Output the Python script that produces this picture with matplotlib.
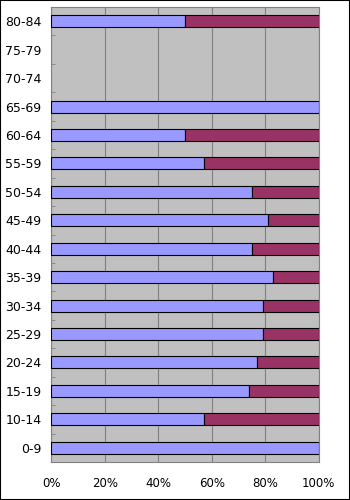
import matplotlib.pyplot as plt
from matplotlib.patches import Rectangle
from matplotlib.ticker import FixedLocator

# age groups, bottom to top
ages = ['0-9', '10-14', '15-19', '20-24', '25-29', '30-34', '35-39', '40-44',
        '45-49', '50-54', '55-59', '60-64', '65-69', '70-74', '75-79', '80-84']
# share of each group (percent)
blue_pct = [100, 57, 74, 77, 79, 79, 83, 75, 81, 75, 57, 50, 100, 0, 0, 50]
red_pct = [0, 43, 26, 23, 21, 21, 17, 25, 19, 25, 43, 50, 0, 0, 0, 50]
xticks = [0, 20, 40, 60, 80, 100]

fig = plt.figure(figsize=(3.5, 5), dpi=100)
ax = fig.add_axes([0.146, 0.076, 0.765, 0.91])
ax.set_facecolor('#c0c0c0')

pos = list(range(len(ages)))
b1 = ax.barh(pos, blue_pct, height=0.42, color='#9999ff', edgecolor='black', linewidth=0.8, zorder=3)
b2 = ax.barh(pos, red_pct, left=blue_pct, height=0.42, color='#993366', edgecolor='black', linewidth=0.8, zorder=3)
# empty segments should not leave an outline
for p in list(b1) + list(b2):
    if p.get_width() == 0:
        p.set_visible(False)

ax.set_xlim(0, 100)
ax.set_ylim(-0.5, len(ages) - 0.5)
ax.set_xticks(xticks)
ax.set_xticklabels([f'{t}%' for t in xticks], fontsize=8.5)
ax.set_yticks(pos)
ax.set_yticklabels(ages, fontsize=9)
ax.tick_params(axis='y', length=0, pad=7)
ax.tick_params(axis='x', length=0, pad=11)
ax.yaxis.set_minor_locator(FixedLocator([p + 0.5 for p in pos[:-1]]))
ax.tick_params(axis='y', which='minor', direction='in', length=3, color='#808080')
ax.grid(True, axis='x', color='#808080', linewidth=0.8, zorder=0)
for s in ax.spines.values():
    s.set_color('#808080')
    s.set_linewidth(0.8)

fig.patches.append(Rectangle((0, 0), 1, 1, transform=fig.transFigure, fill=False,
                             edgecolor='black', linewidth=1.5))

plt.savefig('out.png', dpi=100)
